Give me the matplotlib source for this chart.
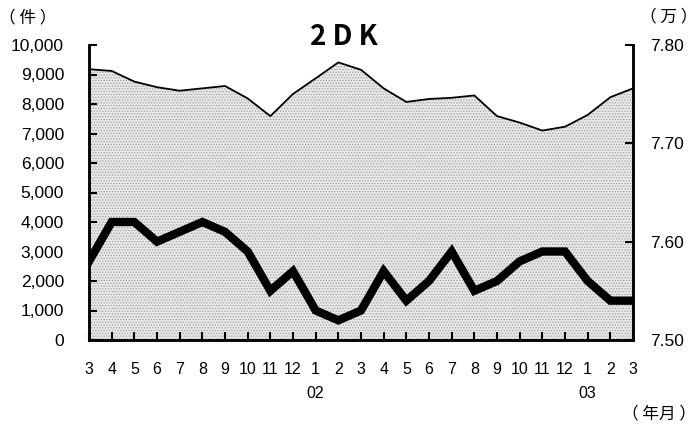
import matplotlib
matplotlib.use("Agg")
import matplotlib.pyplot as plt
import numpy as np

# months from 2001/3 to 2003/3
months = ["3", "4", "5", "6", "7", "8", "9", "10", "11", "12",
          "1\n02", "2", "3", "4", "5", "6", "7", "8", "9", "10", "11", "12",
          "1\n03", "2", "3"]

# left axis (件): shaded area
counts = [9180, 9120, 8760, 8570, 8450, 8530, 8610, 8190, 7590, 8340,
          8870, 9410, 9160, 8530, 8070, 8170, 8210, 8290, 7590, 7370,
          7100, 7230, 7630, 8230, 8530]

# right axis (万): thick line
prices = [7.58, 7.62, 7.62, 7.60, 7.61, 7.62, 7.61, 7.59, 7.55, 7.57,
          7.53, 7.52, 7.53, 7.57, 7.54, 7.56, 7.59, 7.55, 7.56, 7.58,
          7.59, 7.59, 7.56, 7.54, 7.54]

jp = ["Noto Sans CJK JP", "DejaVu Sans"]
num_font = "Liberation Sans"

fig = plt.figure(figsize=(6.98, 4.33), dpi=100)
ax = fig.add_axes([89 / 698, 93 / 433, 544 / 698, 295 / 433])
x = np.arange(len(months))

plt.rcParams["hatch.linewidth"] = 0.6
ax.fill_between(x, 0, counts, facecolor="#e8e8e8", edgecolor="#a0a0a0",
                hatch="......", linewidth=0)
ax.plot(x, counts, color="black", lw=1.3)

ax.set_xlim(0, len(months) - 1)
ax.set_ylim(0, 10000)
ax.set_yticks(range(0, 10001, 1000))
ax.set_yticklabels([f"{v:,}" for v in range(0, 10001, 1000)],
                   fontsize=12.5, family=num_font)
ax.set_xticks(x)
ax.set_xticklabels(months, fontsize=11.5, family=num_font, linespacing=1.75)
ax.tick_params(axis="x", direction="in", length=6, width=1.5, pad=16)
ax.tick_params(axis="y", direction="in", length=6, width=1.5, pad=18)

ax2 = ax.twinx()
ax2.plot(x, prices, color="black", lw=6, solid_joinstyle="miter")
ax2.set_ylim(7.50, 7.80)
ax2.set_yticks([7.50, 7.60, 7.70, 7.80])
ax2.set_yticklabels(["7.50", "7.60", "7.70", "7.80"], fontsize=12.5,
                    family=num_font)
ax2.tick_params(axis="y", direction="in", length=6, width=1.5, pad=12)

for a in (ax, ax2):
    a.spines["top"].set_visible(False)
    for s in ("left", "right", "bottom"):
        a.spines[s].set_linewidth(1.8)

fig.text(344 / 698, 1 - 37 / 433, "2 D K", ha="center", va="center",
         fontsize=20, family=jp, fontweight="bold")
fig.text(28 / 698, 1 - 18 / 433, "（ 件 ）", ha="center", va="center",
         fontsize=12, family=jp)
fig.text(669 / 698, 1 - 17 / 433, "（ 万 ）", ha="center", va="center",
         fontsize=12, family=jp)
fig.text(659 / 698, 1 - 414 / 433, "（ 年月 ）", ha="center", va="center",
         fontsize=12, family=jp)

fig.savefig("out.png", dpi=100)
